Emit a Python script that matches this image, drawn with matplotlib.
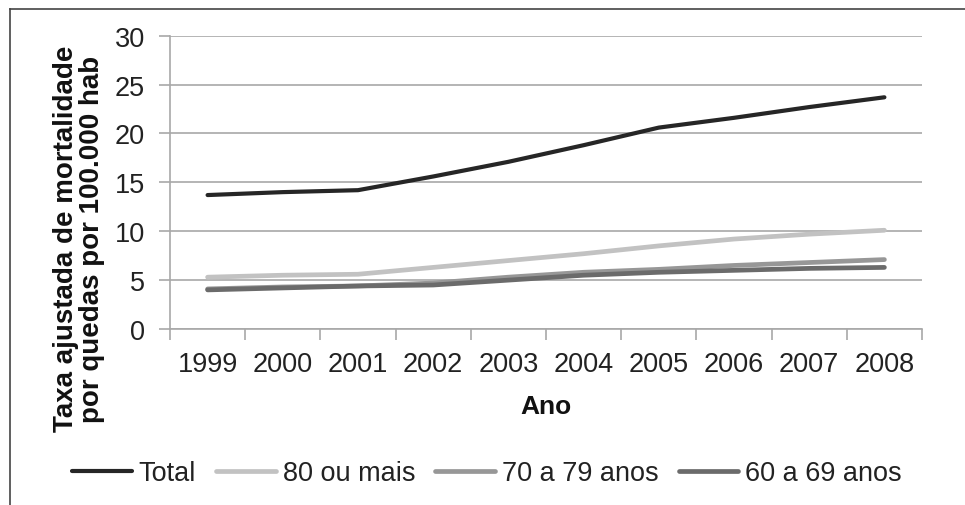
import numpy as np
import matplotlib
matplotlib.use("Agg")
import matplotlib.pyplot as plt
from matplotlib.lines import Line2D

plt.rcParams['font.family'] = ['Liberation Sans', 'DejaVu Sans']

anos = ['1999', '2000', '2001', '2002', '2003', '2004', '2005', '2006', '2007', '2008']
total = [13.7, 14.0, 14.2, 15.6, 17.1, 18.8, 20.6, 21.6, 22.7, 23.7]
mais80 = [5.3, 5.5, 5.6, 6.3, 7.0, 7.7, 8.5, 9.2, 9.7, 10.1]
a70_79 = [4.1, 4.3, 4.4, 4.7, 5.3, 5.8, 6.1, 6.5, 6.8, 7.1]
a60_69 = [4.0, 4.2, 4.4, 4.5, 5.0, 5.5, 5.8, 6.0, 6.2, 6.3]

series = [
    ("Total", total, "#262626", 3.0),
    ("80 ou mais", mais80, "#c2c2c2", 3.4),
    ("70 a 79 anos", a70_79, "#979797", 3.4),
    ("60 a 69 anos", a60_69, "#6b6b6b", 3.4),
]

W, H = 965, 506
fig = plt.figure(figsize=(W/100, H/100), dpi=100)
ax = fig.add_axes([170/W, 1-330/H, (922-170)/W, (330-36.7)/H])

x = np.arange(len(anos)) + 0.5
for nome, vals, cor, lw in series:
    ax.plot(x, vals, color=cor, lw=lw, label=nome, solid_capstyle='round', zorder=3)

grid_c = "#a8a8a8"
ax.set_xlim(0, len(anos))
ax.set_ylim(0, 30)
ax.set_yticks(np.arange(0, 31, 5))
ax.set_xticks(np.arange(len(anos)+1))
ax.set_xticklabels([])
ax.set_xticks(x, minor=True)
ax.set_xticklabels(anos, minor=True)
ax.tick_params(axis='x', which='minor', length=0, pad=16, labelsize=19.5, labelcolor='#222222')
ax.tick_params(axis='x', which='major', length=8, color=grid_c, width=1.2)
ax.tick_params(axis='y', length=8, color=grid_c, width=1.2, pad=10, labelsize=19.5, labelcolor='#222222')
ax.yaxis.grid(True, color=grid_c, lw=1.2)
ax.set_axisbelow(True)
for s in ['top', 'right']:
    ax.spines[s].set_visible(False)
for s in ['left', 'bottom']:
    ax.spines[s].set_color(grid_c)
    ax.spines[s].set_linewidth(1.2)

ax.set_xlabel("Ano", fontsize=19, fontweight='bold', labelpad=12, color='#111111')
fig.text(79/W, 1-239/H, "Taxa ajustada de mortalidade\npor quedas por 100.000 hab",
         rotation=90, ha='center', va='center', multialignment='center',
         fontsize=20, fontweight='bold', color='#111111', linespacing=1.0)

leg = fig.legend(loc='center', bbox_to_anchor=(487/W, 1-474/H), ncol=4, frameon=False,
                 fontsize=19.5, handlelength=2.2, handletextpad=0.25, columnspacing=0.75)
for t in leg.get_texts():
    t.set_color('#222222')

# moldura
fig.add_artist(Line2D([10/W, 1], [1-10/H, 1-10/H], color='#444444', lw=1.2))
fig.add_artist(Line2D([10/W, 10/W], [0, 1-10/H], color='#444444', lw=1.2))

fig.savefig("out.png", dpi=100)
